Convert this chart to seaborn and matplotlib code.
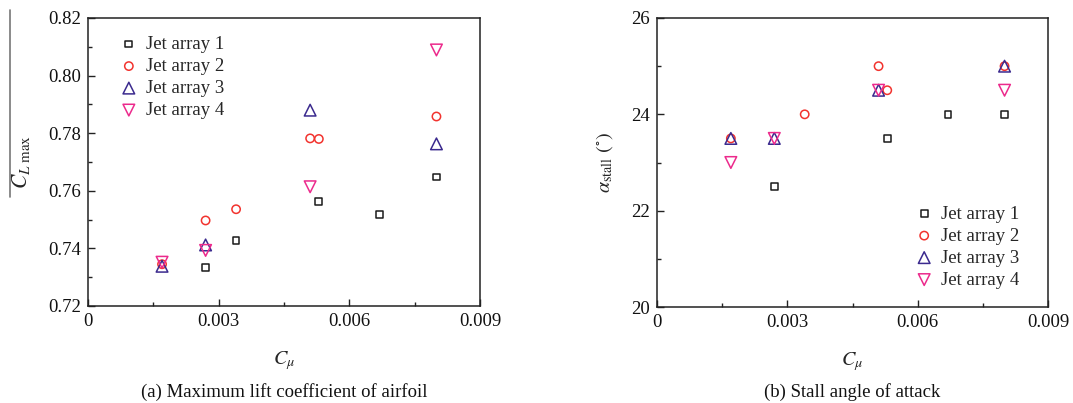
import matplotlib
matplotlib.use("Agg")
import matplotlib.pyplot as plt
from matplotlib.lines import Line2D
from matplotlib.ticker import MultipleLocator, FixedLocator
import seaborn as sns

# ---- data -------------------------------------------------------------
series_names = ["Jet array 1", "Jet array 2", "Jet array 3", "Jet array 4"]

# (a) maximum lift coefficient
cl_j1_x = [0.0027, 0.0034, 0.0053, 0.0067, 0.0080]
cl_j1_y = [0.7334, 0.7428, 0.7562, 0.7518, 0.7648]
cl_j2_x = [0.0017, 0.0027, 0.0034, 0.0051, 0.0053, 0.0080]
cl_j2_y = [0.7345, 0.7497, 0.7536, 0.7782, 0.7780, 0.7858]
cl_j3_x = [0.0017, 0.0027, 0.0051, 0.0080]
cl_j3_y = [0.7338, 0.7412, 0.7880, 0.7763]
cl_j4_x = [0.0017, 0.0027, 0.0051, 0.0080]
cl_j4_y = [0.7352, 0.7393, 0.7614, 0.8089]

# (b) stall angle of attack
st_j1_x = [0.0027, 0.0053, 0.0067, 0.0080]
st_j1_y = [22.5, 23.5, 24.0, 24.0]
st_j2_x = [0.0017, 0.0034, 0.0051, 0.0053, 0.0080]
st_j2_y = [23.5, 24.0, 25.0, 24.5, 25.0]
st_j3_x = [0.0017, 0.0027, 0.0051, 0.0080]
st_j3_y = [23.5, 23.5, 24.5, 25.0]
st_j4_x = [0.0017, 0.0027, 0.0051, 0.0080]
st_j4_y = [23.0, 23.5, 24.5, 24.5]

x_ticks = [0, 0.003, 0.006, 0.009]
x_tick_labels = ["0", "0.003", "0.006", "0.009"]
cl_ticks = [0.72, 0.74, 0.76, 0.78, 0.80, 0.82]
cl_tick_labels = ["0.72", "0.74", "0.76", "0.78", "0.80", "0.82"]
st_ticks = [20, 22, 24, 26]
st_tick_labels = ["20", "22", "24", "26"]

# ---- styling ----------------------------------------------------------
sns.set_theme(style="white")
plt.rcParams["font.family"] = ["Liberation Serif", "DejaVu Serif"]
plt.rcParams["mathtext.fontset"] = "stix"
FS = 13.5

markers = ["s", "o", "^", "v"]
colors = ["#1a1a1a", "#f2332e", "#3b2a8e", "#ec2a8c"]
sizes = [24, 36, 70, 70]

fig = plt.figure(figsize=(10.73, 4.03), dpi=100)
ax1 = fig.add_axes([88 / 1073, 1 - 306 / 403, 392 / 1073, 288 / 403])
ax2 = fig.add_axes([657 / 1073, 1 - 307 / 403, 391 / 1073, 289 / 403])


def draw_panel(ax, xs, ys, ylim, yticks, ylabels, yminor):
    for i, (x, y) in enumerate(zip(xs, ys)):
        sns.scatterplot(x=x, y=y, ax=ax, marker=markers[i], s=sizes[i],
                        color=colors[i], facecolor="none",
                        edgecolor=colors[i], linewidth=1.1,
                        label=series_names[i], zorder=3 + i)
    ax.set_xlim(0, 0.009)
    ax.set_ylim(*ylim)
    ax.xaxis.set_major_locator(FixedLocator(x_ticks))
    ax.set_xticklabels(x_tick_labels)
    ax.xaxis.set_minor_locator(MultipleLocator(0.0015))
    ax.yaxis.set_major_locator(FixedLocator(yticks))
    ax.set_yticklabels(ylabels)
    ax.yaxis.set_minor_locator(MultipleLocator(yminor))
    ax.tick_params(which="both", direction="in", top=False, right=False,
                   bottom=True, left=True, colors="#222222",
                   labelcolor="#111111", labelsize=FS)
    ax.tick_params(which="major", length=5, width=1.0, pad=5)
    ax.tick_params(which="minor", length=3, width=1.0)
    for sp in ax.spines.values():
        sp.set_color("#222222")
        sp.set_linewidth(1.1)
    ax.grid(False)
    ax.set_xlabel(r"$C_{\mu}$", fontsize=FS + 1, labelpad=14)


draw_panel(ax1, [cl_j1_x, cl_j2_x, cl_j3_x, cl_j4_x],
           [cl_j1_y, cl_j2_y, cl_j3_y, cl_j4_y],
           (0.72, 0.82), cl_ticks, cl_tick_labels, 0.01)
draw_panel(ax2, [st_j1_x, st_j2_x, st_j3_x, st_j4_x],
           [st_j1_y, st_j2_y, st_j3_y, st_j4_y],
           (20, 26), st_ticks, st_tick_labels, 1)

ax1.set_ylabel(r"$C_{L\ \mathrm{max}}$", fontsize=FS + 2, labelpad=12)
ax2.set_ylabel(r"$\alpha_{\mathrm{stall}}\ (^{\circ})$", fontsize=FS + 1,
               labelpad=12)

leg_kw = dict(frameon=False, fontsize=FS, handlelength=1.0,
              handletextpad=0.4, labelspacing=0.26, borderpad=0.3,
              scatterpoints=1)
ax1.legend(loc="upper left", bbox_to_anchor=(0.042, 0.99), **leg_kw)
ax2.legend(loc="lower right", bbox_to_anchor=(0.965, 0.012), **leg_kw)

# thin rule at the far left edge
fig.add_artist(Line2D([9.5 / 1073, 9.5 / 1073], [1 - 10 / 403, 1 - 197 / 403],
                      transform=fig.transFigure, color="#777777", lw=1.2))

fig.text(284 / 1073, 1 - 392 / 403, "(a) Maximum lift coefficient of airfoil",
         ha="center", va="center", fontsize=FS, color="#111111")
fig.text(852 / 1073, 1 - 392 / 403, "(b) Stall angle of attack",
         ha="center", va="center", fontsize=FS, color="#111111")

fig.savefig("out.png", dpi=100, facecolor="white")
